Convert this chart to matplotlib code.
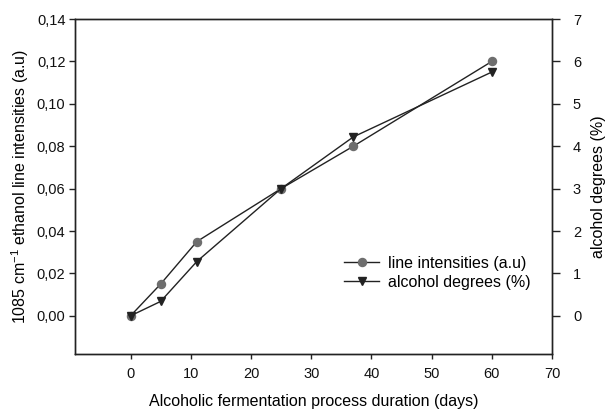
import numpy as np
from matplotlib import pyplot as plt
from matplotlib.ticker import FuncFormatter

plt.rcParams['font.family'] = ['Liberation Sans', 'DejaVu Sans']
plt.rcParams['mathtext.fontset'] = 'custom'
plt.rcParams['mathtext.rm'] = 'Liberation Sans'

days = [0, 5, 11, 25, 37, 60]
intensity = [0.0, 0.015, 0.035, 0.060, 0.080, 0.120]
degrees = [0.0, 0.34, 1.28, 3.0, 4.22, 5.75]

fig = plt.figure(figsize=(6.06, 4.09), dpi=100)
ax = fig.add_axes([0.124, 0.1345, 0.787, 0.819])
ax2 = ax.twinx()

l1, = ax.plot(days, intensity, '-', color='#222222', lw=1.0, marker='o', ms=5.8,
              mfc='#6e6e6e', mec='#6e6e6e', label='line intensities (a.u)')
l2, = ax2.plot(days, degrees, '-', color='#222222', lw=1.0, marker='v', ms=5.8,
               mfc='#222222', mec='#222222', label='alcohol degrees (%)')

ax.set_xlim(-9.2, 70)
ax.set_ylim(-0.018, 0.14)
ax2.set_ylim(-0.9, 7)
ax.set_xticks(range(0, 71, 10))
ax.set_yticks(np.arange(0, 0.141, 0.02))
ax2.set_yticks(range(0, 8))
ax.yaxis.set_major_formatter(FuncFormatter(lambda v, p: ('%.2f' % v).replace('.', ',')))

for a in (ax, ax2):
    a.tick_params(direction='out', width=1, labelsize=10.5, color='#222222',
                  labelcolor='#111111')
    for s in a.spines.values():
        s.set_linewidth(1.0)
        s.set_color('#222222')

ax.tick_params(axis='x', length=3.5, pad=6)
ax.tick_params(axis='y', length=4.5, pad=2.5)
ax2.tick_params(axis='y', length=6, pad=9)

ax.set_xlabel('Alcoholic fermentation process duration (days)', fontsize=11.5, labelpad=9)
ax.set_ylabel(r'1085 cm$^{\mathrm{-1}}$ ethanol line intensities (a.u)', fontsize=11.5, labelpad=4)
ax2.set_ylabel('alcohol degrees (%)', fontsize=11.5, labelpad=7)

ax.legend([l1, l2], [l1.get_label(), l2.get_label()], frameon=False, fontsize=11.5,
          loc='center left', bbox_to_anchor=(0.564, 0.242), borderpad=0,
          borderaxespad=0, handlelength=2.2, handletextpad=0.56, labelspacing=0.25)

fig.savefig('out.png', dpi=100)
